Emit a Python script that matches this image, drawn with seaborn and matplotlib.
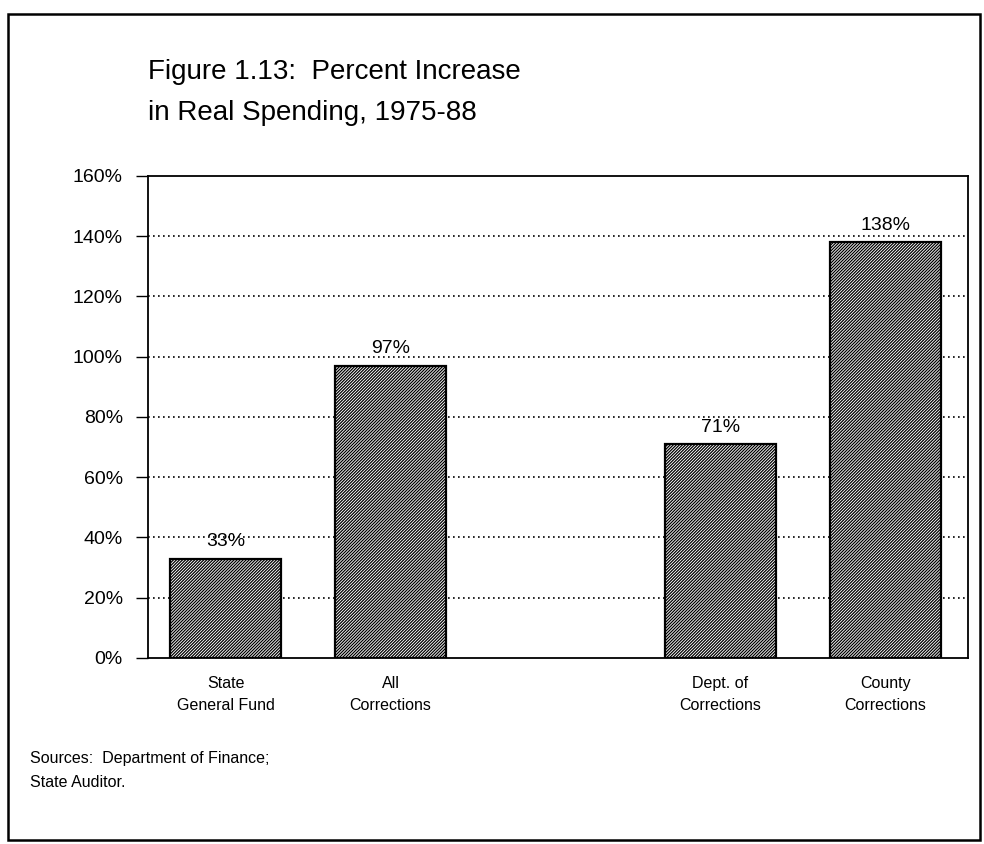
import matplotlib
matplotlib.use("Agg")
import matplotlib.pyplot as plt
import seaborn as sns
import pandas as pd
from matplotlib.patches import Rectangle

# data
categories = ["State\nGeneral Fund", "All\nCorrections", "Dept. of\nCorrections", "County\nCorrections"]
values = [33, 97, 71, 138]
order = ["State\nGeneral Fund", "All\nCorrections", " ", "Dept. of\nCorrections", "County\nCorrections"]
yticks = [0, 20, 40, 60, 80, 100, 120, 140, 160]

title = "Figure 1.13:  Percent Increase\nin Real Spending, 1975-88"
source = "Sources:  Department of Finance;\nState Auditor."

sns.set_theme(style="white")
plt.rcParams["font.family"] = ["Liberation Sans", "DejaVu Sans"]
plt.rcParams["hatch.linewidth"] = 0.9
plt.rcParams["text.color"] = "black"
plt.rcParams["xtick.color"] = "black"
plt.rcParams["ytick.color"] = "black"

df = pd.DataFrame({"category": categories, "pct": values})

fig = plt.figure(figsize=(9.84, 8.44), dpi=100)
ax = fig.add_axes([0.1504, 0.2204, 0.8333, 0.5711])

sns.barplot(data=df, x="category", y="pct", order=order, color="white",
            edgecolor="black", linewidth=1.6, width=0.67, hatch="///////////",
            ax=ax, zorder=3)

for bar in ax.patches:
    bar.set_facecolor("white")
    bar.set_edgecolor("black")

ax.bar_label(ax.containers[0], labels=[f"{v}%" for v in values],
             padding=6, fontsize=14, color="black")

ax.set_ylim(0, 160)
ax.set_xlim(-0.47, 4.5)
ax.set_yticks(yticks)
ax.set_yticklabels([f"{t}%" for t in yticks], fontsize=14)
ax.tick_params(axis="y", left=True, length=9, width=1, color="black", pad=9)
ax.tick_params(axis="x", bottom=False, labelsize=11.5, pad=7)
for lbl in ax.get_xticklabels():
    lbl.set_linespacing(1.55)
ax.set_xlabel("")
ax.set_ylabel("")

for y in yticks[1:-1]:
    ax.axhline(y, color="black", lw=1.2, ls=(0, (1, 2)), zorder=1)

for s in ax.spines.values():
    s.set_visible(True)
    s.set_color("black")
    s.set_linewidth(1.3)

fig.text(0.150, 0.930, title, fontsize=20, va="top", ha="left", linespacing=1.75)
fig.text(0.030, 0.087, source, fontsize=11.5, va="center", ha="left", linespacing=1.75)

# outer frame
fig.patches.append(Rectangle((0.008, 0.005), 0.988, 0.978, transform=fig.transFigure,
                             fill=False, edgecolor="black", lw=1.8))

fig.savefig("out.png", dpi=100, facecolor="white")
